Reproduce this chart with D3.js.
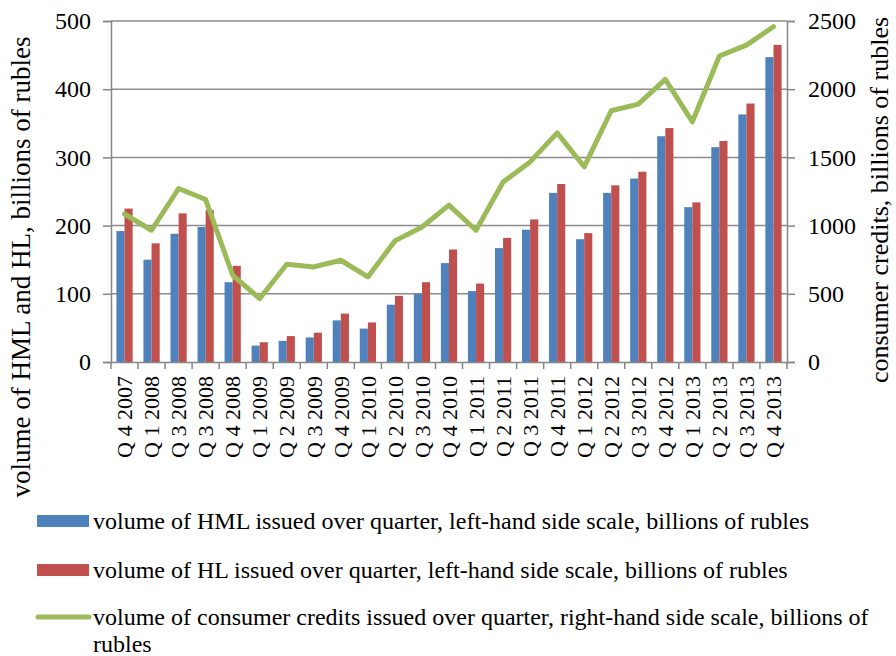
<!DOCTYPE html>
<html>
<head>
<meta charset="utf-8">
<script src="https://cdn.jsdelivr.net/npm/d3@7"></script>
<style>
  body { margin: 0; background: #fff; }
  svg text { font-family: "Liberation Serif", "Times New Roman", serif; fill: #000; }
</style>
</head>
<body>
<script>
var quarters = ["Q 4 2007", "Q 1 2008", "Q 3 2008", "Q 3 2008", "Q 4 2008",
    "Q 1 2009", "Q 2 2009", "Q 3 2009", "Q 4 2009",
    "Q 1 2010", "Q 2 2010", "Q 3 2010", "Q 4 2010",
    "Q 1 2011", "Q 2 2011", "Q 3 2011", "Q 4 2011",
    "Q 1 2012", "Q 2 2012", "Q 3 2012", "Q 4 2012",
    "Q 1 2013", "Q 2 2013", "Q 3 2013", "Q 4 2013"];

var hml = [192, 150, 188, 198, 117, 24, 31, 36, 61, 49, 84, 100, 145,
    104, 167, 194, 248, 180, 248, 269, 331, 227, 315, 363, 447];

var hl = [225, 174, 218, 223, 141, 29, 38, 43, 71, 58, 97, 117, 165,
    115, 182, 209, 261, 189, 259, 279, 343, 234, 324, 379, 465];

var consumer = [1085, 966, 1272, 1191, 636, 465, 717, 697, 746, 624, 888, 990, 1150,
    966, 1320, 1467, 1680, 1431, 1842, 1891, 2072, 1761, 2243, 2323, 2458];

var leftTicks = [0, 100, 200, 300, 400, 500];
var rightTicks = [0, 500, 1000, 1500, 2000, 2500];

var legendItems = [
    {type: "bar", color: "#4F81BD", text: ["volume of HML issued over quarter, left-hand side scale, billions of rubles"]},
    {type: "bar", color: "#C0504D", text: ["volume of HL issued over quarter, left-hand side scale, billions of rubles"]},
    {type: "line", color: "#9BBB59", text: ["volume of consumer credits issued over quarter, right-hand side scale, billions of", "rubles"]}
];

var w = 896,
    h = 656,
    plotLeft = 111,
    plotRight = 787,
    plotTop = 21,
    plotBottom = 362;

var svg = d3.select("body").append("svg").attr("width", w).attr("height", h);

var xScale = d3.scaleBand()
    .domain(d3.range(quarters.length))
    .range([plotLeft, plotRight]);

var yLeft = d3.scaleLinear().domain([0, 500]).range([plotBottom, plotTop]);
var yRight = d3.scaleLinear().domain([0, 2500]).range([plotBottom, plotTop]);

// gridlines
svg.append("g").selectAll("line")
    .data(leftTicks.slice(1))
    .enter().append("line")
    .attr("x1", plotLeft).attr("x2", plotRight)
    .attr("y1", function (d) { return yLeft(d); })
    .attr("y2", function (d) { return yLeft(d); })
    .attr("stroke", "#8c8c8c")
    .attr("stroke-width", 1.5);

// bars
var bw = xScale.bandwidth() * 0.3;
var bars = svg.append("g");
bars.selectAll("rect.hml")
    .data(hml)
    .enter().append("rect")
    .attr("class", "hml")
    .attr("x", function (d, i) { return xScale(i) + xScale.bandwidth() / 2 - bw; })
    .attr("y", function (d) { return yLeft(d); })
    .attr("width", bw)
    .attr("height", function (d) { return plotBottom - yLeft(d); })
    .attr("fill", "#4F81BD");

bars.selectAll("rect.hl")
    .data(hl)
    .enter().append("rect")
    .attr("class", "hl")
    .attr("x", function (d, i) { return xScale(i) + xScale.bandwidth() / 2; })
    .attr("y", function (d) { return yLeft(d); })
    .attr("width", bw)
    .attr("height", function (d) { return plotBottom - yLeft(d); })
    .attr("fill", "#C0504D");

// axes
var xAxisGen = d3.axisBottom(xScale).tickSize(0).tickFormat(function (i) { return quarters[i]; });
var xAxis = svg.append("g")
    .attr("transform", "translate(0," + plotBottom + ")")
    .call(xAxisGen);
xAxis.select(".domain").attr("stroke", "#868686").attr("stroke-width", 1.5);
xAxis.selectAll("text")
    .attr("transform", "rotate(-90)")
    .attr("x", -14)
    .attr("y", 0)
    .attr("dy", "0.35em")
    .attr("text-anchor", "end")
    .style("font-size", "22px")
    .style("font-family", "Liberation Serif");

// category boundary ticks
svg.append("g").selectAll("line")
    .data(d3.range(quarters.length + 1))
    .enter().append("line")
    .attr("x1", function (i) { return plotLeft + i * xScale.step(); })
    .attr("x2", function (i) { return plotLeft + i * xScale.step(); })
    .attr("y1", plotBottom).attr("y2", plotBottom + 7)
    .attr("stroke", "#868686")
    .attr("stroke-width", 1.5);

var yAxisL = svg.append("g")
    .attr("transform", "translate(" + plotLeft + ",0)")
    .call(d3.axisLeft(yLeft).tickValues(leftTicks).tickFormat(d3.format("d")).tickSize(8).tickPadding(12));
var yAxisR = svg.append("g")
    .attr("transform", "translate(" + plotRight + ",0)")
    .call(d3.axisRight(yRight).tickValues(rightTicks).tickFormat(d3.format("d")).tickSize(8).tickPadding(13));

[yAxisL, yAxisR].forEach(function (a) {
    a.select(".domain").attr("stroke", "#868686").attr("stroke-width", 1.5);
    a.selectAll(".tick line").attr("stroke", "#868686").attr("stroke-width", 1.5);
    a.selectAll("text").style("font-size", "24px").style("font-family", "Liberation Serif");
});

// consumer credits line
var lineFn = d3.line()
    .x(function (d, i) { return xScale(i) + xScale.bandwidth() / 2; })
    .y(function (d) { return yRight(d); });

svg.append("path")
    .attr("d", lineFn(consumer))
    .attr("fill", "none")
    .attr("stroke", "#9BBB59")
    .attr("stroke-width", 5)
    .attr("stroke-linejoin", "round")
    .attr("stroke-linecap", "round");

// axis titles
svg.append("text")
    .attr("transform", "translate(30,267) rotate(-90)")
    .attr("text-anchor", "middle")
    .style("font-size", "27px")
    .text("volume of HML and HL,  billions of rubles");

svg.append("text")
    .attr("transform", "translate(888,200) rotate(-90)")
    .attr("text-anchor", "middle")
    .style("font-size", "26px")
    .text("consumer credits, billions of rubles");

// legend
var legendY = [521, 570, 617];
legendItems.forEach(function (item, k) {
    var g = svg.append("g").attr("transform", "translate(0," + legendY[k] + ")");
    if (item.type === "bar") {
        g.append("rect").attr("x", 37).attr("y", -6).attr("width", 52).attr("height", 12).attr("fill", item.color);
    } else {
        g.append("line").attr("x1", 38).attr("x2", 89).attr("y1", 0).attr("y2", 0)
            .attr("stroke", item.color).attr("stroke-width", 5).attr("stroke-linecap", "round");
    }
    item.text.forEach(function (t, j) {
        g.append("text")
            .attr("x", 93)
            .attr("y", 8 + j * 27)
            .style("font-size", "24px")
            .text(t);
    });
});
</script>
</body>
</html>
